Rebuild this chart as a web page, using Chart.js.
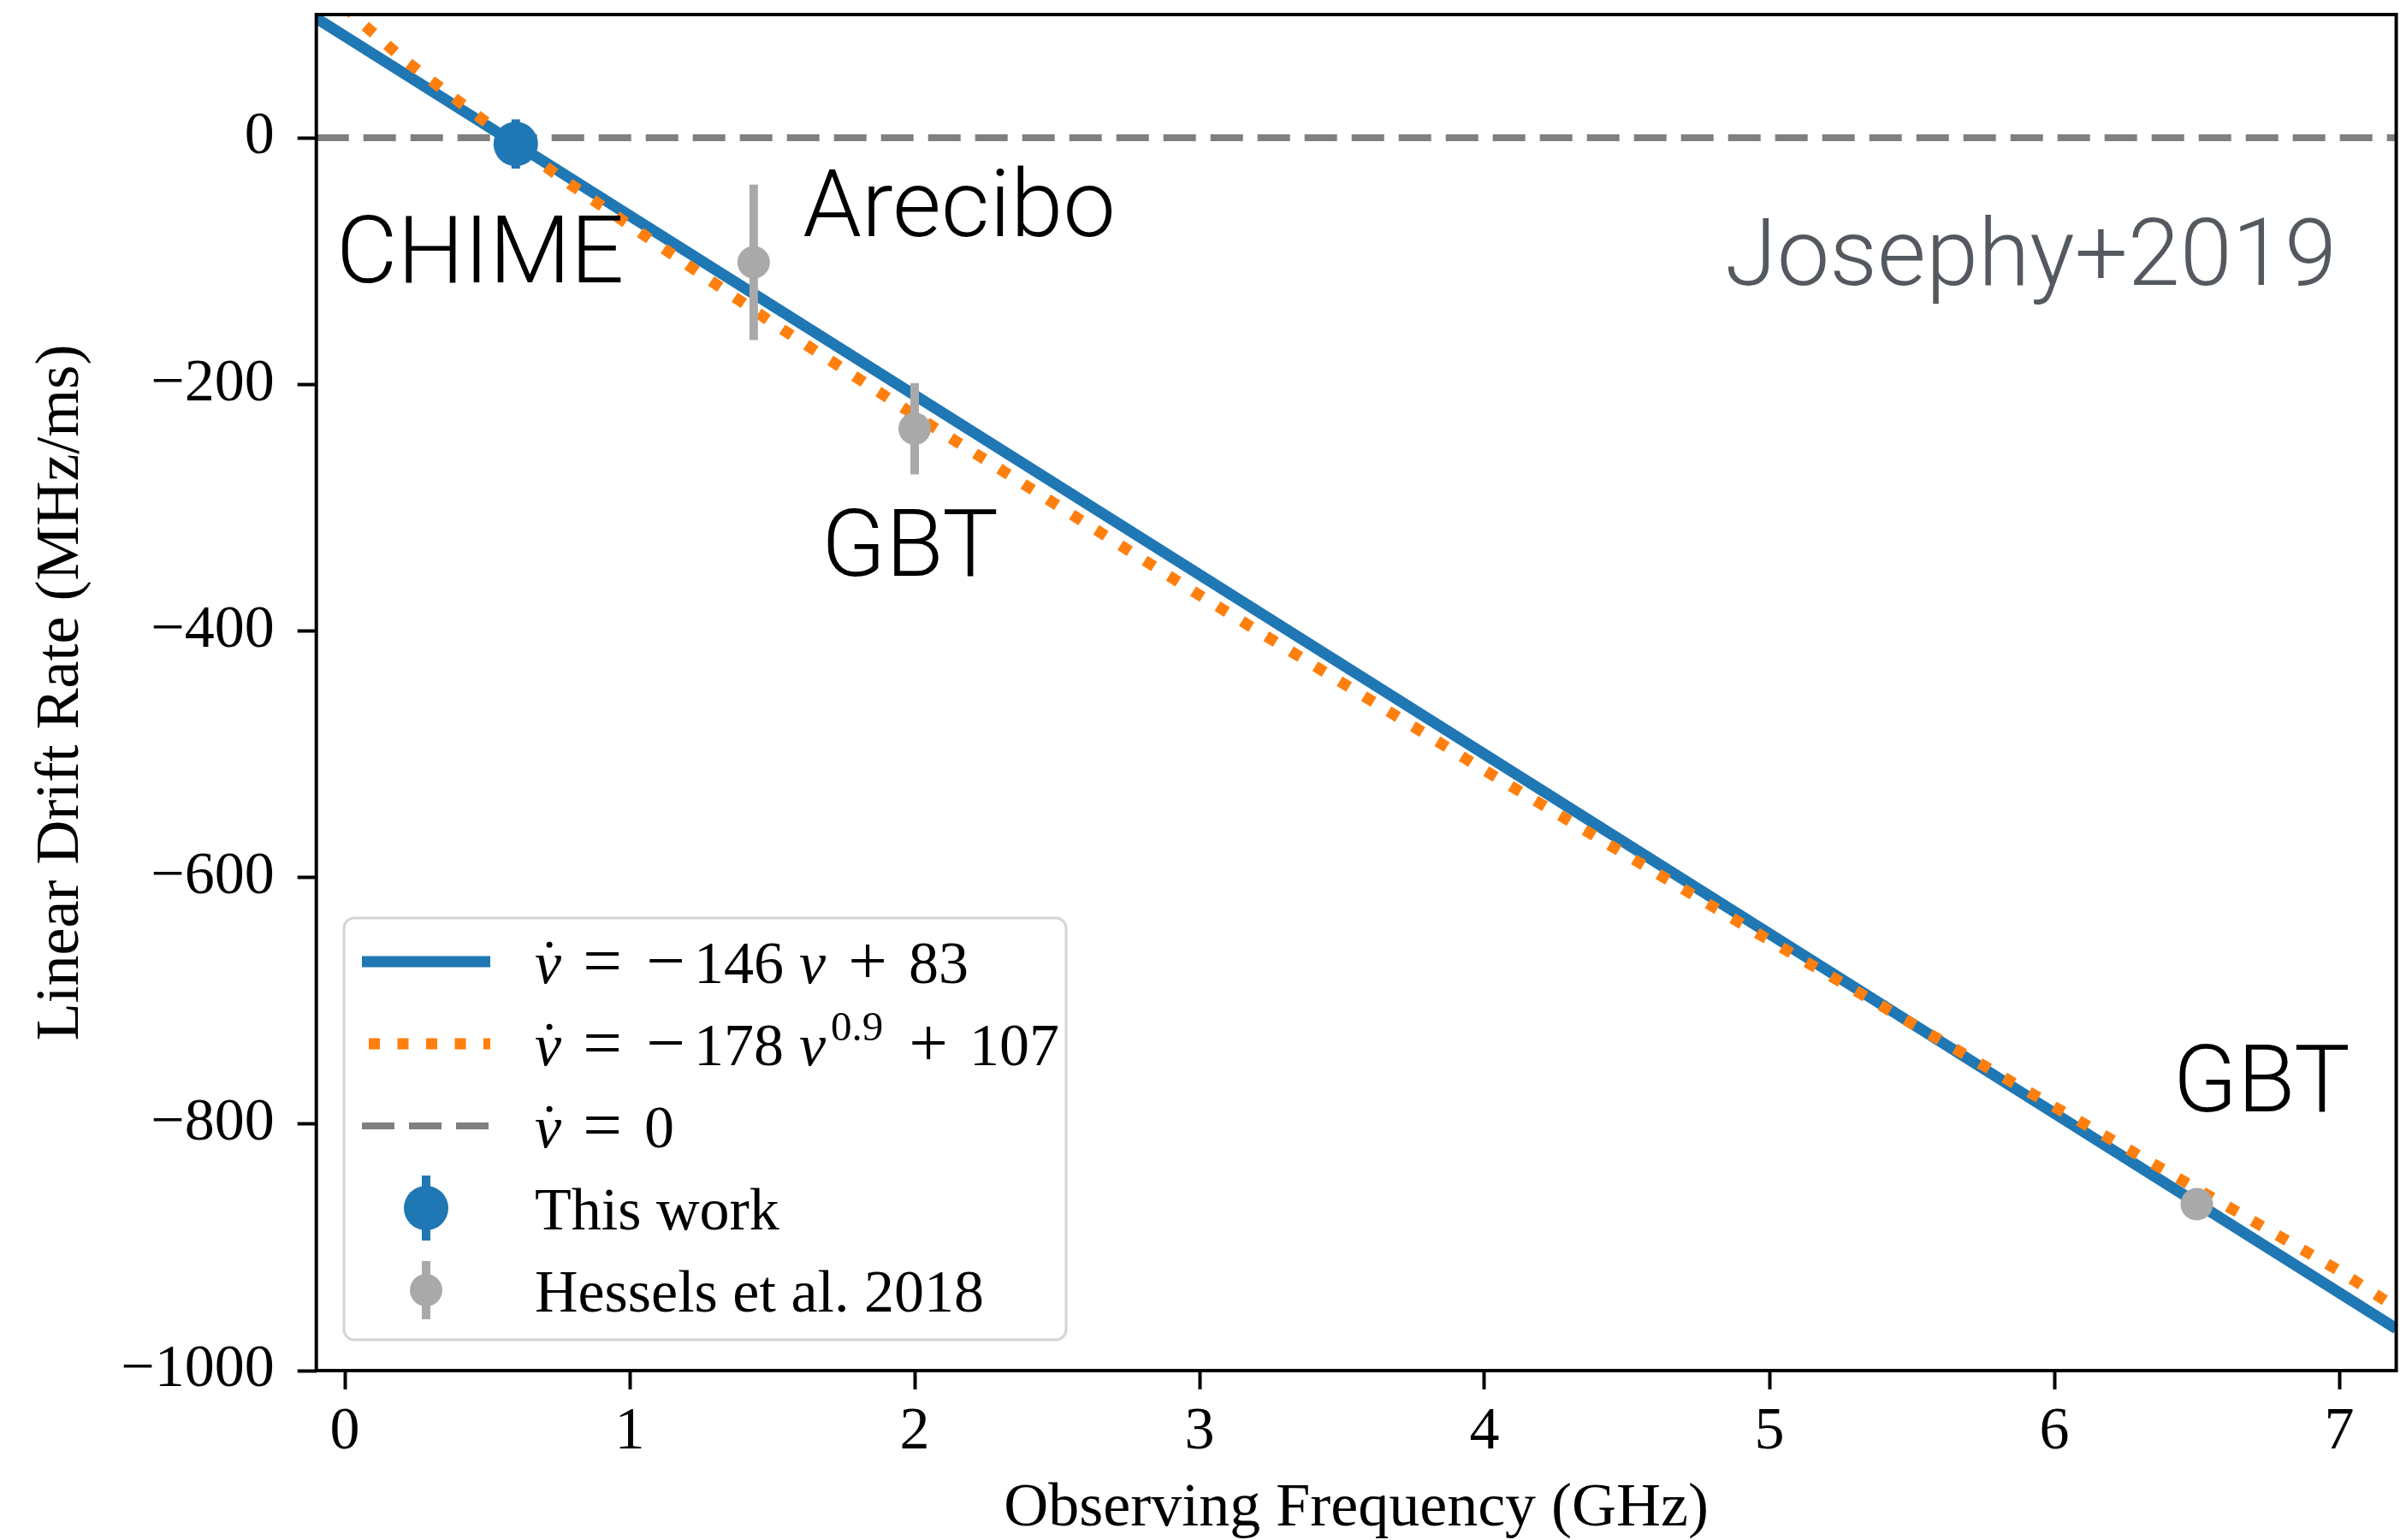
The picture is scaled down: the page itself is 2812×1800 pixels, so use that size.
<!DOCTYPE html>
<html>
<head>
<meta charset="utf-8">
<script src="https://cdn.jsdelivr.net/npm/chart.js@4.4.1/dist/chart.umd.min.js"></script>
<style>
  html, body { margin: 0; padding: 0; background: #fff; }
  canvas { display: block; }
</style>
</head>
<body>
<canvas id="driftChart" width="2812" height="1800"></canvas>
<script>
// fitted drift-rate curves, frequency in GHz, rate in MHz/ms
const linearFitFreq = [-0.1, 7.2];
const linearFitRate = [97, -966];

const powerFitFreq = [0, 0.05, 0.1, 0.2, 0.3, 0.5, 0.75, 1, 1.5, 2, 3, 4, 5, 6, 7, 7.2];
const powerFitRate = [107, 95, 85, 65, 47, 12, -31, -71, -150, -225, -371, -513, -651, -786, -919, -949];

const zeroLineFreq = [-0.1, 7.2];
const zeroLineRate = [0, 0];

// measurements
const chimeFreq = [0.6];
const chimeRate = [-5];
const chimeErr = [20];

const hesselsFreq = [1.435, 2.0, 6.5];
const hesselsRate = [-101, -236, -865];
const hesselsErr = [63, 37, 6];

// axis ticks
const freqTicks = [0, 1, 2, 3, 4, 5, 6, 7];
const rateTicks = [-1000, -800, -600, -400, -200, 0];

const toPoints = (xs, ys) => xs.map((x, i) => ({ x: x, y: ys[i] }));

const BLUE = '#1f77b4';
const ORANGE = '#ff7f0e';
const GRAY = '#7f7f7f';
const LIGHT_GRAY = '#a9a9a9';
const SERIF = '"Liberation Serif", "DejaVu Serif", serif';
const SANS = 'Roboto, "Liberation Sans", sans-serif';

// error bars go under the markers of the same dataset
const errorBarPlugin = {
    id: 'errorBars',
    beforeDatasetDraw(chart, args) {
        const ds = chart.data.datasets[args.index];
        if (!ds.errors) return;
        const { ctx, scales: { x, y } } = chart;
        ctx.save();
        ctx.strokeStyle = ds.backgroundColor;
        ctx.lineWidth = ds.errorWidth;
        ds.data.forEach((p, i) => {
            const px = x.getPixelForValue(p.x);
            ctx.beginPath();
            ctx.moveTo(px, y.getPixelForValue(p.y + ds.errors[i]));
            ctx.lineTo(px, y.getPixelForValue(p.y - ds.errors[i]));
            ctx.stroke();
        });
        ctx.restore();
    }
};

// box around the axes
const framePlugin = {
    id: 'frame',
    afterDatasetsDraw(chart) {
        const { ctx, chartArea: a } = chart;
        ctx.save();
        ctx.strokeStyle = '#000';
        ctx.lineWidth = 4;
        ctx.strokeRect(a.left, a.top, a.right - a.left, a.bottom - a.top);
        ctx.restore();
    }
};

// telescope names, anchored in data coordinates (left edge, baseline)
const siteNotes = [
    { text: 'CHIME', x: -0.03, y: -117, color: '#000' },
    { text: 'Arecibo', x: 1.607, y: -80, color: '#000' },
    { text: 'GBT', x: 1.673, y: -355, color: '#000' },
    { text: 'GBT', x: 6.417, y: -790, color: '#000' },
    { text: 'Josephy+2019', x: 4.844, y: -119, color: '#54595f' }
];

const notesPlugin = {
    id: 'notes',
    afterDraw(chart) {
        const { ctx, scales: { x, y } } = chart;
        ctx.save();
        ctx.font = '300 110px ' + SANS;
        ctx.textAlign = 'left';
        ctx.textBaseline = 'alphabetic';
        siteNotes.forEach(n => {
            ctx.fillStyle = n.color;
            ctx.fillText(n.text, x.getPixelForValue(n.x), y.getPixelForValue(n.y));
        });
        ctx.restore();
    }
};

// hand drawn legend so the math labels can be set properly
function drawMath(ctx, parts, x, baseline, size) {
    parts.forEach(p => {
        const cx = x + p.at;
        ctx.textAlign = 'left';
        if (p.sup) {
            ctx.font = `${Math.round(size * 0.7)}px ${SERIF}`;
            ctx.fillText(p.t, cx, baseline - size * 0.42);
        } else if (p.it) {
            ctx.font = `italic ${size}px ${SERIF}`;
            ctx.fillText(p.t, cx, baseline);
        } else if (p.op) {
            // operators are wider in the original math font, centre them on their slot
            ctx.font = `${Math.round(size * 1.15)}px ${SERIF}`;
            ctx.textAlign = 'center';
            ctx.fillText(p.t, cx, baseline + size * 0.02);
        } else {
            ctx.font = `${size}px ${SERIF}`;
            ctx.fillText(p.t, cx, baseline);
        }
        if (p.dot) {
            const w = ctx.measureText(p.t).width;
            ctx.beginPath();
            ctx.arc(cx + w * 0.55, baseline - size * 0.64, size * 0.05, 0, Math.PI * 2);
            ctx.fill();
        }
    });
}

const nuDot = { t: 'ν', it: true, dot: true, at: 0 };

const legendRows = [
    {
        kind: 'line', color: BLUE, width: 13, dash: [], from: 423,
        parts: [nuDot, { t: '=', op: true, at: 79 }, { t: '−', op: true, at: 153 }, { t: '146', at: 186 },
            { t: 'ν', it: true, at: 309 }, { t: '+', op: true, at: 389 }, { t: '83', at: 437 }]
    },
    {
        kind: 'line', color: ORANGE, width: 13, dash: [13, 20.5], from: 431,
        parts: [nuDot, { t: '=', op: true, at: 79 }, { t: '−', op: true, at: 153 }, { t: '178', at: 186 },
            { t: 'ν', it: true, at: 309 }, { t: '0.9', sup: true, at: 346 }, { t: '+', op: true, at: 460 }, { t: '107', at: 508 }]
    },
    {
        kind: 'line', color: GRAY, width: 8, dash: [38, 17], from: 423,
        parts: [nuDot, { t: '=', op: true, at: 79 }, { t: '0', at: 128 }]
    },
    { kind: 'point', color: BLUE, radius: 26, bar: 38, parts: [{ t: 'This work', at: 0 }] },
    { kind: 'point', color: LIGHT_GRAY, radius: 19, bar: 34, parts: [{ t: 'Hessels et al. 2018', at: 0 }] }
];

const legendPlugin = {
    id: 'mathLegend',
    afterDraw(chart) {
        const ctx = chart.ctx;
        const box = { left: 402, top: 1073, right: 1246, bottom: 1566 };
        ctx.save();
        ctx.beginPath();
        ctx.roundRect(box.left, box.top, box.right - box.left, box.bottom - box.top, 12);
        ctx.fillStyle = 'rgba(255,255,255,0.8)';
        ctx.fill();
        ctx.strokeStyle = '#d4d4d4';
        ctx.lineWidth = 3;
        ctx.stroke();

        legendRows.forEach((row, i) => {
            const cy = 1124 + i * 96;
            if (row.kind === 'line') {
                ctx.beginPath();
                ctx.setLineDash(row.dash);
                ctx.lineCap = 'butt';
                ctx.strokeStyle = row.color;
                ctx.lineWidth = row.width;
                ctx.moveTo(row.from, cy);
                ctx.lineTo(573, cy);
                ctx.stroke();
                ctx.setLineDash([]);
            } else {
                ctx.strokeStyle = row.color;
                ctx.fillStyle = row.color;
                ctx.lineWidth = 10;
                ctx.beginPath();
                ctx.moveTo(498, cy - row.bar);
                ctx.lineTo(498, cy + row.bar);
                ctx.stroke();
                ctx.beginPath();
                ctx.arc(498, cy, row.radius, 0, Math.PI * 2);
                ctx.fill();
            }
            ctx.fillStyle = '#000';
            ctx.textBaseline = 'alphabetic';
            drawMath(ctx, row.parts, 625, cy + 25, 70);
        });
        ctx.restore();
    }
};

const minusLabel = v => (v < 0 ? '−' + Math.abs(v) : String(v));

const noPadding = scale => {
    scale.paddingTop = 0;
    scale.paddingBottom = 0;
    scale.paddingLeft = 0;
    scale.paddingRight = 0;
};

new Chart(document.getElementById('driftChart').getContext('2d'), {
    type: 'line',
    data: {
        datasets: [
            {
                label: 'This work',
                data: toPoints(chimeFreq, chimeRate),
                errors: chimeErr,
                errorWidth: 10,
                showLine: false,
                pointRadius: 26,
                pointBorderWidth: 0,
                backgroundColor: BLUE,
                borderColor: BLUE,
                order: 0
            },
            {
                label: 'Hessels et al. 2018',
                data: toPoints(hesselsFreq, hesselsRate),
                errors: hesselsErr,
                errorWidth: 10,
                showLine: false,
                pointRadius: 19,
                pointBorderWidth: 0,
                backgroundColor: LIGHT_GRAY,
                borderColor: LIGHT_GRAY,
                order: 1
            },
            {
                label: 'linear fit',
                data: toPoints(linearFitFreq, linearFitRate),
                borderColor: BLUE,
                borderWidth: 13,
                pointRadius: 0,
                tension: 0,
                clip: 0,
                order: 3
            },
            {
                label: 'power-law fit',
                data: toPoints(powerFitFreq, powerFitRate),
                borderColor: ORANGE,
                borderWidth: 13,
                borderDash: [13, 20.5],
                borderCapStyle: 'butt',
                pointRadius: 0,
                tension: 0,
                clip: 0,
                order: 2
            },
            {
                label: 'zero',
                data: toPoints(zeroLineFreq, zeroLineRate),
                borderColor: GRAY,
                borderWidth: 8,
                borderDash: [38, 17],
                pointRadius: 0,
                clip: 0,
                order: 4
            }
        ]
    },
    options: {
        responsive: false,
        animation: false,
        devicePixelRatio: 1,
        events: [],
        layout: {
            autoPadding: false,
            padding: { top: 17, right: 11.4, left: 0, bottom: 0 }
        },
        plugins: {
            legend: { display: false },
            tooltip: { enabled: false }
        },
        scales: {
            x: {
                type: 'linear',
                min: -0.1,
                max: 7.2,
                afterBuildTicks: scale => {
                    scale.ticks = freqTicks.map(v => ({ value: v }));
                },
                afterFit: scale => {
                    scale.height = 198;
                    noPadding(scale);
                },
                border: { display: false },
                grid: {
                    drawOnChartArea: false,
                    drawTicks: true,
                    tickLength: 22,
                    tickWidth: 4,
                    tickColor: '#000'
                },
                ticks: {
                    padding: 9,
                    color: '#000',
                    font: { family: SERIF, size: 70 },
                    maxRotation: 0,
                    callback: minusLabel
                },
                title: {
                    display: true,
                    text: 'Observing Frequency (GHz)',
                    color: '#000',
                    font: { family: SERIF, size: 72, lineHeight: 1 },
                    padding: { top: 0, bottom: 0 }
                }
            },
            y: {
                type: 'linear',
                min: -1000,
                max: 100,
                afterBuildTicks: scale => {
                    scale.ticks = rateTicks.map(v => ({ value: v }));
                },
                afterFit: scale => {
                    scale.width = 369.7;
                    noPadding(scale);
                },
                border: { display: false },
                grid: {
                    drawOnChartArea: false,
                    drawTicks: true,
                    tickLength: 22,
                    tickWidth: 4,
                    tickColor: '#000'
                },
                ticks: {
                    padding: 27,
                    color: '#000',
                    font: { family: SERIF, size: 70 },
                    callback: minusLabel
                },
                title: {
                    display: true,
                    text: 'Linear Drift Rate (MHz/ms)',
                    color: '#000',
                    font: { family: SERIF, size: 72, lineHeight: 1 },
                    padding: { top: 36, bottom: 0 }
                }
            }
        }
    },
    plugins: [errorBarPlugin, framePlugin, notesPlugin, legendPlugin]
});
</script>
</body>
</html>
